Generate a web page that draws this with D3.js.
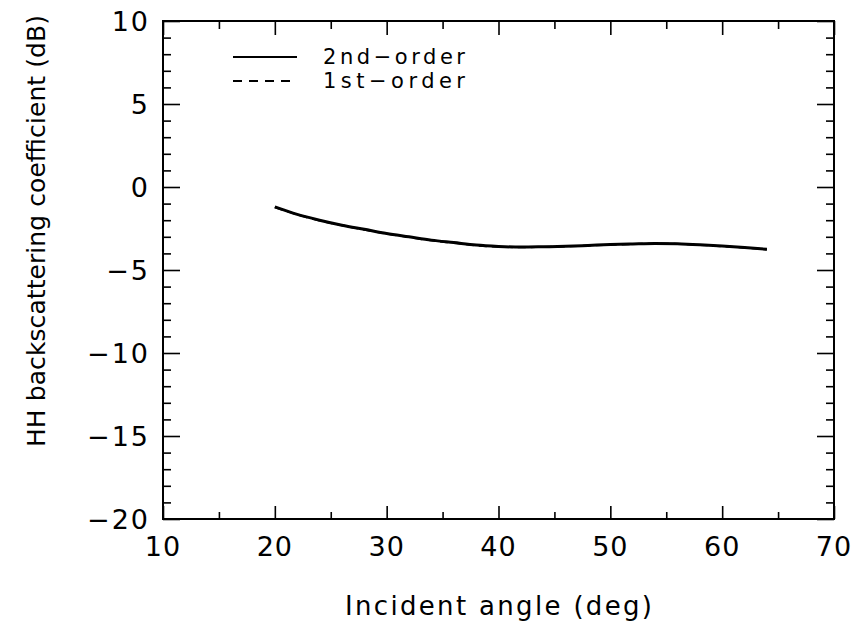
<!DOCTYPE html>
<html>
<head>
<meta charset="utf-8">
<script src="https://cdn.jsdelivr.net/npm/d3@7"></script>
<style>
  body { margin: 0; background: #fff; }
  text { font-family: "DejaVu Sans", sans-serif; fill: #000; }
</style>
</head>
<body>
<svg width="856" height="626"></svg>
<script>
// incident angle (deg)
var angles = [20, 22, 24, 26, 28, 30, 32, 34, 36, 38, 40, 42, 44, 46, 48, 50, 52, 54, 56, 58, 60, 62, 64];
// HH backscattering coefficient (dB)
var secondOrder = [-1.2, -1.65, -2.0, -2.3, -2.55, -2.8, -3.0, -3.2, -3.35, -3.5, -3.58, -3.62, -3.6, -3.57, -3.52, -3.47, -3.43, -3.4, -3.42, -3.48, -3.56, -3.65, -3.75];
var firstOrder  = [-1.22, -1.66, -2.02, -2.31, -2.57, -2.82, -3.02, -3.22, -3.37, -3.52, -3.6, -3.63, -3.61, -3.58, -3.53, -3.48, -3.44, -3.41, -3.43, -3.49, -3.57, -3.66, -3.76];
var xTicks = [10, 20, 30, 40, 50, 60, 70];
var yTicks = [-20, -15, -10, -5, 0, 5, 10];
var legendLabels = ["2nd\u2212order", "1st\u2212order"];

var margin = {top: 21, right: 22, bottom: 107, left: 163},
    width = 856 - margin.left - margin.right,
    height = 626 - margin.top - margin.bottom;

var xScale = d3.scaleLinear().domain([10, 70]).range([0, width]);
var yScale = d3.scaleLinear().domain([-20, 10]).range([height, 0]);

var svg = d3.select("svg")
  .append("g")
    .attr("transform", "translate(" + margin.left + "," + margin.top + ")");

// frame
svg.append("rect")
    .attr("width", width)
    .attr("height", height)
    .style("fill", "none")
    .style("stroke", "#000")
    .style("stroke-width", 2);

// minor tick positions
var xMinor = d3.range(15, 70, 10);
var yMinor = d3.range(-19, 10, 1).filter(function(v) { return v % 5 !== 0; });

function drawTicks(g) {
  g.select(".domain").remove();
  g.selectAll("line").style("stroke", "#000").style("stroke-width", 1.6);
}

// bottom
svg.append("g").attr("transform", "translate(0," + height + ")")
    .call(d3.axisTop(xScale).tickValues(xTicks).tickSize(13).tickFormat("")).call(drawTicks);
svg.append("g").attr("transform", "translate(0," + height + ")")
    .call(d3.axisTop(xScale).tickValues(xMinor).tickSize(7).tickFormat("")).call(drawTicks);
// top
svg.append("g")
    .call(d3.axisBottom(xScale).tickValues(xTicks).tickSize(14).tickFormat("")).call(drawTicks);
svg.append("g")
    .call(d3.axisBottom(xScale).tickValues(xMinor).tickSize(8).tickFormat("")).call(drawTicks);
// left
svg.append("g")
    .call(d3.axisRight(yScale).tickValues(yTicks).tickSize(17).tickFormat("")).call(drawTicks);
svg.append("g")
    .call(d3.axisRight(yScale).tickValues(yMinor).tickSize(8).tickFormat("")).call(drawTicks);
// right
svg.append("g").attr("transform", "translate(" + width + ",0)")
    .call(d3.axisLeft(yScale).tickValues(yTicks).tickSize(17).tickFormat("")).call(drawTicks);
svg.append("g").attr("transform", "translate(" + width + ",0)")
    .call(d3.axisLeft(yScale).tickValues(yMinor).tickSize(8).tickFormat("")).call(drawTicks);

// tick labels
svg.selectAll(".xlab").data(xTicks).enter().append("text")
    .attr("x", function(d) { return xScale(d); })
    .attr("y", height + 37)
    .attr("text-anchor", "middle")
    .style("font-size", "27px")
    .style("letter-spacing", "1px")
    .text(function(d) { return d; });

svg.selectAll(".ylab").data(yTicks).enter().append("text")
    .attr("x", -13)
    .attr("y", function(d) { return yScale(d); })
    .attr("dy", "0.36em")
    .attr("text-anchor", "end")
    .style("font-size", "27px")
    .style("letter-spacing", "2px")
    .text(function(d) { return d < 0 ? "\u2212" + Math.abs(d) : d; });

// axis titles
svg.append("text")
    .attr("x", 345 - margin.left)
    .attr("y", 615 - margin.top)
    .attr("textLength", 307)
    .attr("lengthAdjust", "spacing")
    .style("font-size", "26px")
    .text("Incident angle (deg)");

svg.append("text")
    .attr("transform", "translate(" + (45 - margin.left) + "," + (447 - margin.top) + ") rotate(-90)")
    .attr("textLength", 432)
    .attr("lengthAdjust", "spacing")
    .style("font-size", "25px")
    .text("HH backscattering coefficient (dB)");

// curves
var valueline = d3.line()
    .x(function(d, i) { return xScale(angles[i]); })
    .y(function(d) { return yScale(d); })
    .curve(d3.curveMonotoneX);

svg.append("path")
    .datum(secondOrder)
    .attr("d", valueline)
    .style("fill", "none")
    .style("stroke", "#000")
    .style("stroke-width", 3);

svg.append("path")
    .datum(firstOrder)
    .attr("d", valueline)
    .style("fill", "none")
    .style("stroke", "#000")
    .style("stroke-width", 2)
    .style("stroke-dasharray", "8,5");

// legend
var legend = svg.append("g").attr("transform", "translate(" + (233 - margin.left) + "," + (57 - margin.top) + ")");
legend.selectAll("line").data(legendLabels).enter().append("line")
    .attr("x1", 0).attr("x2", 64)
    .attr("y1", function(d, i) { return i * 24; })
    .attr("y2", function(d, i) { return i * 24; })
    .style("stroke", "#000")
    .style("stroke-width", 2)
    .style("stroke-dasharray", function(d, i) { return i === 0 ? null : "9,7"; });
legend.selectAll("text").data(legendLabels).enter().append("text")
    .attr("x", 90)
    .attr("y", function(d, i) { return 7 + i * 24; })
    .attr("textLength", 142)
    .attr("lengthAdjust", "spacing")
    .style("font-size", "21px")
    .text(function(d) { return d; });
</script>
</body>
</html>
